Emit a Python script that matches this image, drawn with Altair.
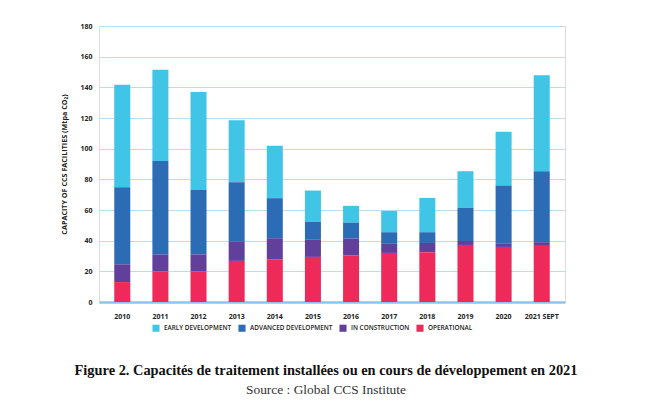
import altair as alt
import pandas as pd

years = ["2010", "2011", "2012", "2013", "2014", "2015", "2016", "2017", "2018", "2019", "2020", "2021 SEPT"]
operational = [13, 20, 20, 26.8, 27.9, 29.4, 30.5, 32, 32.4, 37.2, 35.9, 36.6]
in_construction = [11.6, 11, 11, 12.8, 13.7, 11.5, 10.9, 6.3, 6.1, 2.6, 2.4, 2.4]
advanced = [50.3, 61, 42, 38.5, 26.1, 11.3, 10.4, 7.2, 7.0, 21.6, 37.7, 46.3]
early = [66.8, 59.4, 64, 40.5, 34.2, 20.5, 10.9, 13.9, 22.4, 23.9, 35, 62.5]

stages = ["EARLY DEVELOPMENT", "ADVANCED DEVELOPMENT", "IN CONSTRUCTION", "OPERATIONAL"]
colors = ["#41c5e7", "#2c6cb4", "#60409b", "#ee2a5b"]
series = [early, advanced, in_construction, operational]
stack_rank = [3, 2, 1, 0]

rows = []
for s, vals, r in zip(stages, series, stack_rank):
    for y, v in zip(years, vals):
        rows.append({"year": y, "stage": s, "value": v, "rank": r})
df = pd.DataFrame(rows)

font = "Open Sans"

chart = alt.Chart(df).mark_bar().encode(
    x=alt.X("year:N", sort=years, title=None,
            scale=alt.Scale(paddingInner=0.58, paddingOuter=0.4),
            axis=alt.Axis(labelAngle=0, labelFont=font, labelFontSize=7, labelFontWeight="bold",
                          labelColor="#222222", ticks=False, labelPadding=10, grid=False,
                          domainColor="#8ec4e8", domainWidth=2.5)),
    y=alt.Y("value:Q", title="CAPACITY OF CCS FACILITIES (Mtpa CO₂)",
            scale=alt.Scale(domain=[0, 180], nice=False),
            axis=alt.Axis(values=list(range(0, 181, 20)), labelFont=font, labelFontSize=7,
                          labelFontWeight="bold", labelColor="#222222", ticks=False, domain=False,
                          labelPadding=7, gridColor="#bcdcf1", gridWidth=1,
                          titleFont=font, titleFontSize=7.2, titleFontWeight="bold",
                          titleColor="#222222", titlePadding=11)),
    color=alt.Color("stage:N", scale=alt.Scale(domain=stages, range=colors),
                    legend=alt.Legend(orient="none", legendX=53, legendY=298,
                                      direction="horizontal", title=None,
                                      symbolType="square", symbolSize=50, symbolStrokeWidth=0,
                                      labelFont=font, labelFontSize=6.4, labelFontWeight=600,
                                      labelColor="#222222", labelOffset=4,
                                      columnPadding=6)),
    order=alt.Order("rank:Q", sort="ascending"),
).properties(
    width=466,
    height=276,
    padding={"left": 99, "top": 26, "right": 84, "bottom": 116},
    autosize=alt.AutoSizeParams(type="none"),
    title=alt.TitleParams(
        text="Figure 2. Capacités de traitement installées ou en cours de développement en 2021",
        subtitle="Source : Global CCS Institute",
        orient="bottom", anchor="middle", font="Liberation Serif", fontSize=14.4,
        fontWeight="bold", color="#111111", subtitleFont="Liberation Serif",
        subtitleFontSize=13.4, subtitleColor="#333333", offset=32, subtitlePadding=5, dx=-6,
    ),
).configure_view(stroke=None).configure(background="white")

chart.save("out.html", embed_options={"renderer": "svg", "actions": False})
